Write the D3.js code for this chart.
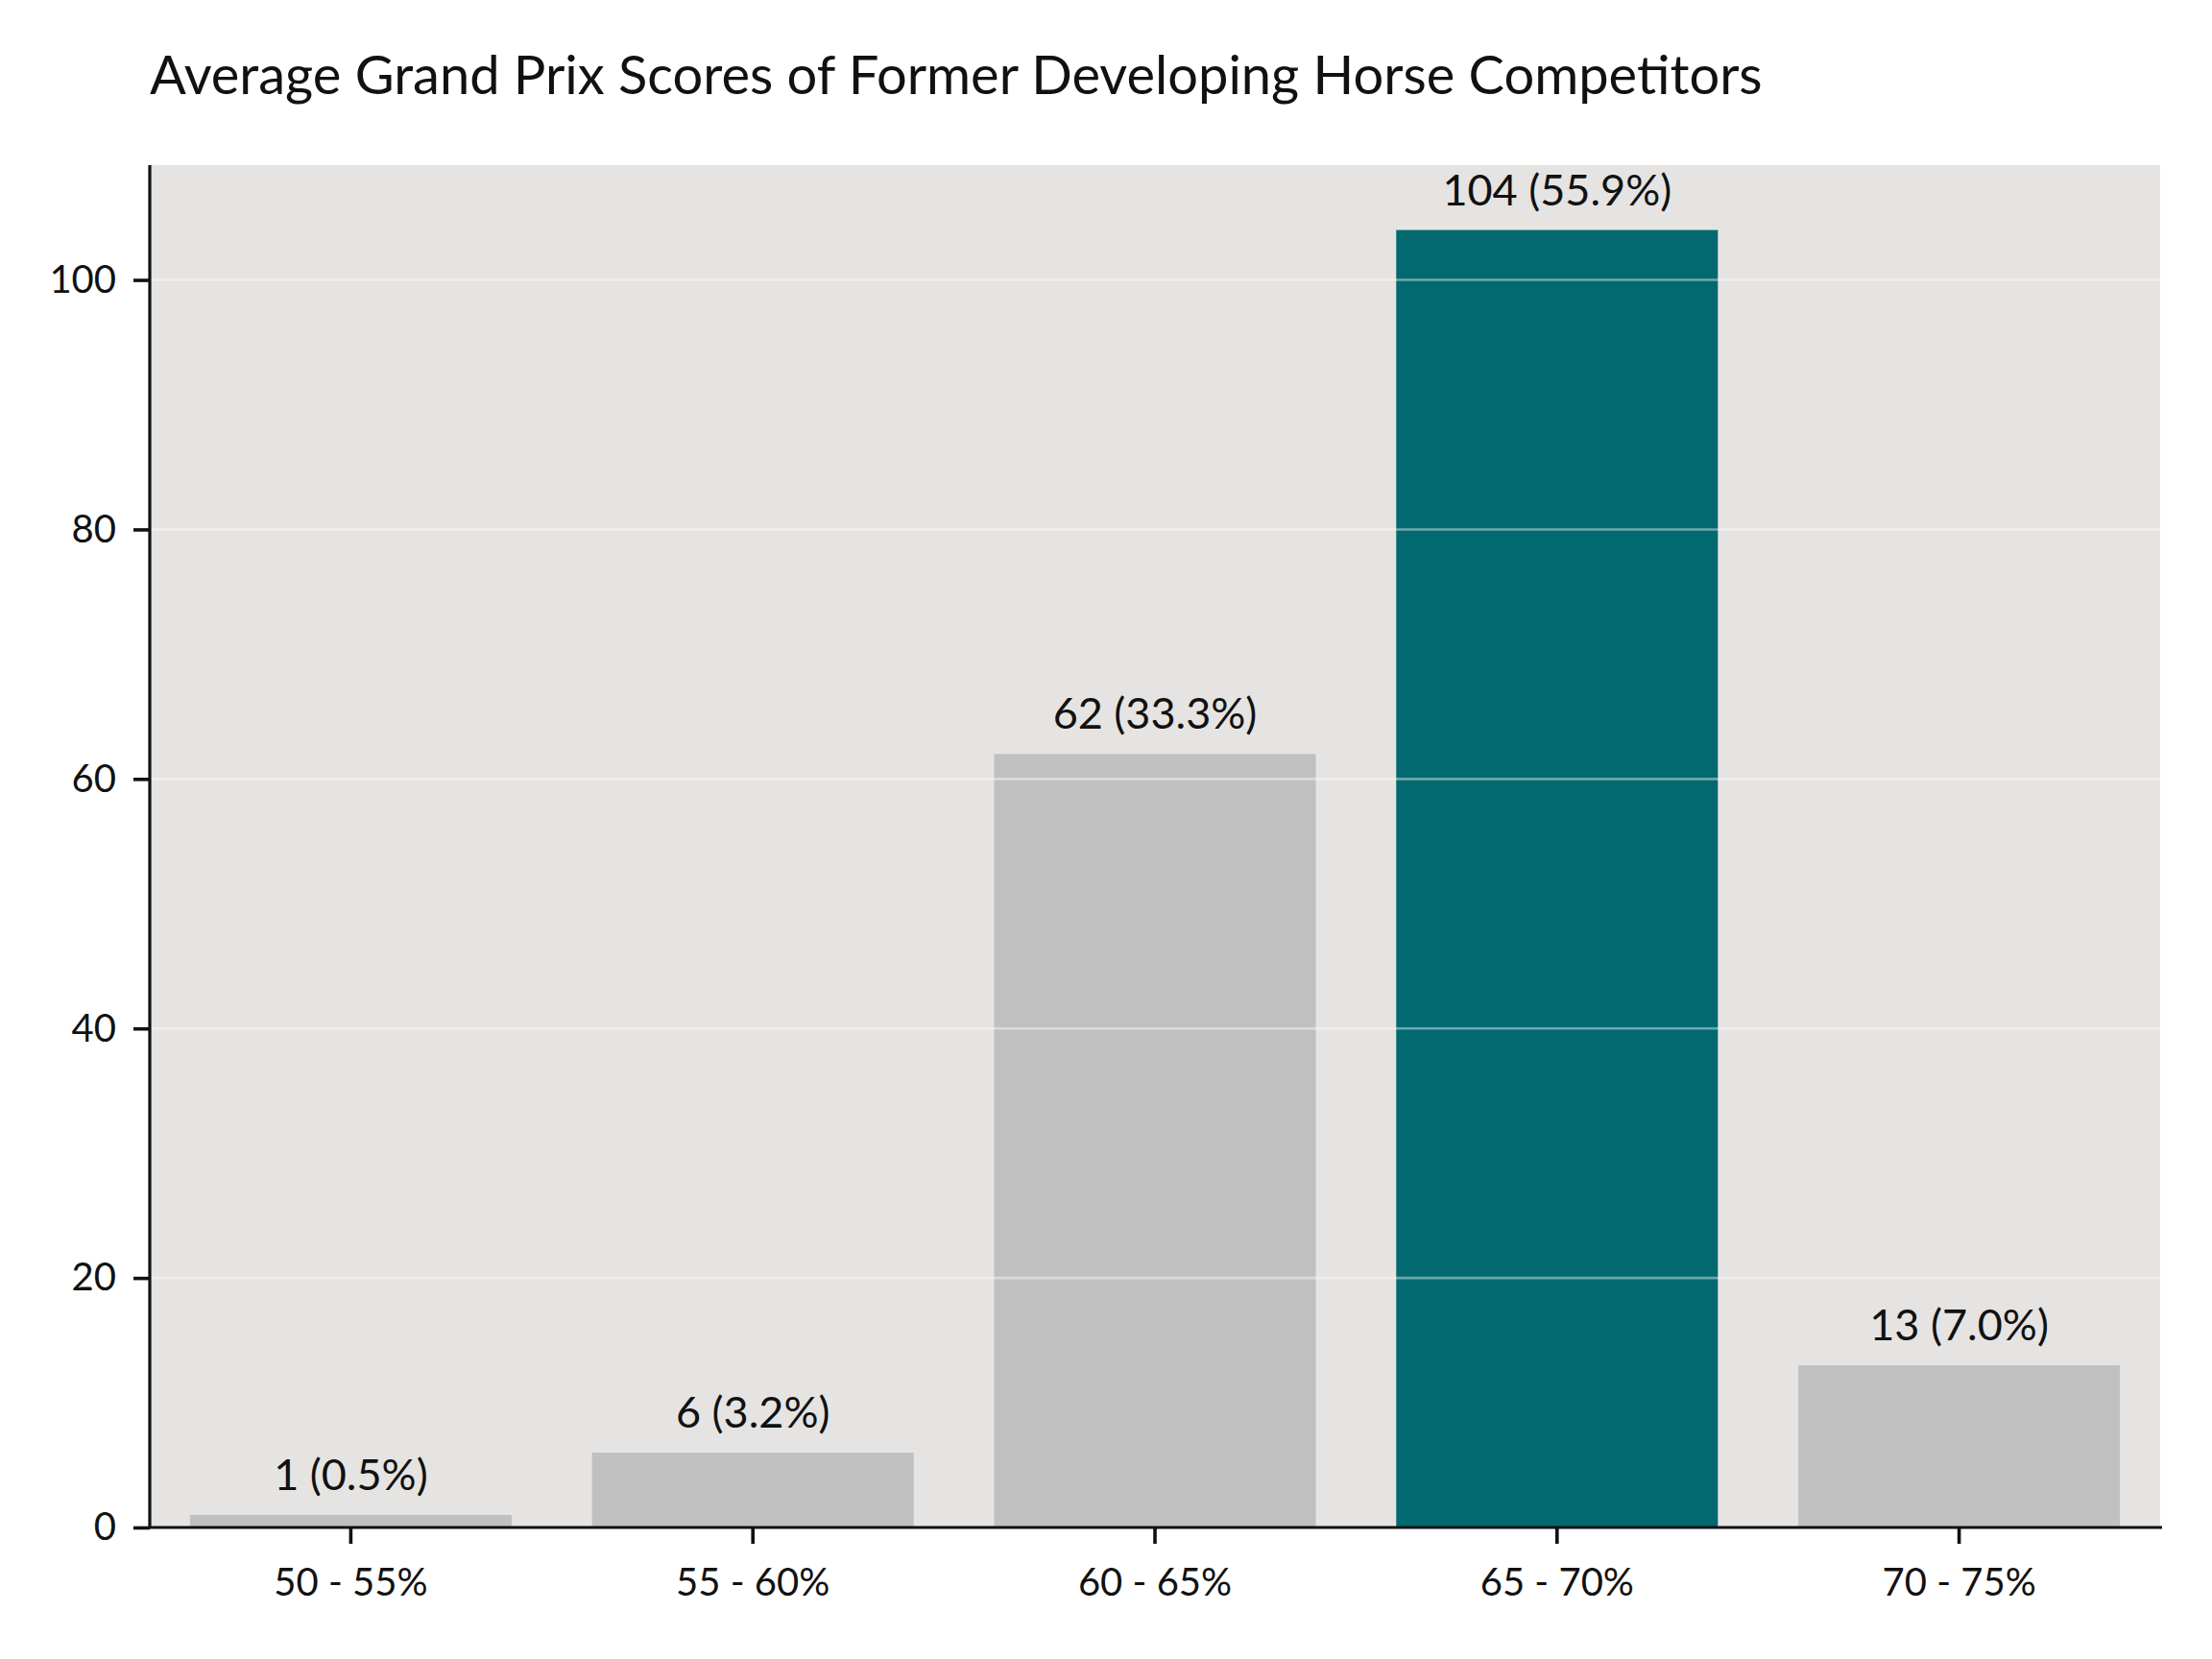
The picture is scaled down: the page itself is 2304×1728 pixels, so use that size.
<!DOCTYPE html>
<html>
<head>
<meta charset="utf-8">
<script src="https://cdn.jsdelivr.net/npm/d3@7"></script>
<style>
  html, body { margin: 0; padding: 0; background: #fff; }
  svg { display: block; font-family: Lato, "Noto Sans", sans-serif; }
</style>
</head>
<body>
<svg id="chart"></svg>
<script>
// Grand Prix score bands, rider counts and share of total
const categories = ["50 - 55%", "55 - 60%", "60 - 65%", "65 - 70%", "70 - 75%"];
const counts = [1, 6, 62, 104, 13];
const shares = [0.5, 3.2, 33.3, 55.9, 7.0];
const highlight = "65 - 70%";
const yTicks = [0, 20, 40, 60, 80, 100];

(function () {
  const W = 2304, H = 1728;
  const M = { top: 172, right: 54, bottom: 137, left: 156 };
  const innerW = W - M.left - M.right;
  const innerH = H - M.top - M.bottom;

  const BG = "#e5e4e2";
  const BAR = "#c0c0c0";
  const TEAL = "#036970";
  const INK = "#111";

  const rows = categories.map((c, i) => ({ cat: c, n: counts[i], pct: shares[i] }));

  const svg = d3.select("#chart").attr("width", W).attr("height", H);

  // Title
  svg.append("text")
    .attr("x", M.left).attr("y", 98)
    .attr("font-size", 56)
    .attr("fill", INK)
    .text("Average Grand Prix Scores of Former Developing Horse Competitors");

  const g = svg.append("g").attr("transform", `translate(${M.left},${M.top})`);

  const x = d3.scaleBand().domain(categories).range([0, innerW])
    .paddingInner(0.2).paddingOuter(0.1);
  const y = d3.scaleLinear().domain([0, d3.max(counts) * 1.05]).range([innerH, 0]);

  // plot background
  g.append("rect").attr("width", innerW).attr("height", innerH).attr("fill", BG);

  // bars
  g.selectAll("rect.bar").data(rows).enter().append("rect")
    .attr("class", "bar")
    .attr("x", d => x(d.cat))
    .attr("width", x.bandwidth())
    .attr("y", d => y(d.n))
    .attr("height", d => innerH - y(d.n))
    .attr("fill", d => d.cat === highlight ? TEAL : BAR);

  // gridlines sit on top of the bars
  g.selectAll("line.grid").data(yTicks.filter(t => t > 0)).enter().append("line")
    .attr("class", "grid")
    .attr("x1", 0).attr("x2", innerW)
    .attr("y1", d => y(d)).attr("y2", d => y(d))
    .attr("stroke", "#fff").attr("stroke-opacity", 0.42)
    .attr("stroke-width", 2.6);

  // value labels
  g.selectAll("text.val").data(rows).enter().append("text")
    .attr("class", "val")
    .attr("x", d => x(d.cat) + x.bandwidth() / 2)
    .attr("y", d => y(d.n) - 26)
    .attr("text-anchor", "middle")
    .attr("font-size", 45)
    .attr("fill", INK)
    .text(d => `${d.n} (${d.pct.toFixed(1)}%)`);

  // axes
  const yAxis = g.append("g")
    .call(d3.axisLeft(y).tickValues(yTicks).tickSize(17).tickPadding(18));
  const xAxis = g.append("g").attr("transform", `translate(0,${innerH})`)
    .call(d3.axisBottom(x).tickSize(17).tickPadding(26));

  [yAxis, xAxis].forEach(a => {
    a.select(".domain").attr("stroke", INK).attr("stroke-width", 3.2);
    a.selectAll(".tick line").attr("stroke", INK).attr("stroke-width", 3.6);
    a.selectAll(".tick text").attr("font-size", 40).attr("fill", INK)
      .attr("font-family", "Lato, 'Noto Sans', sans-serif");
  });
  // matplotlib-style spine: no end caps
  yAxis.select(".domain").attr("d", `M0,${innerH}V0`);
  xAxis.select(".domain").attr("d", `M0,0H${innerW + 2}`);
})();
</script>
</body>
</html>
